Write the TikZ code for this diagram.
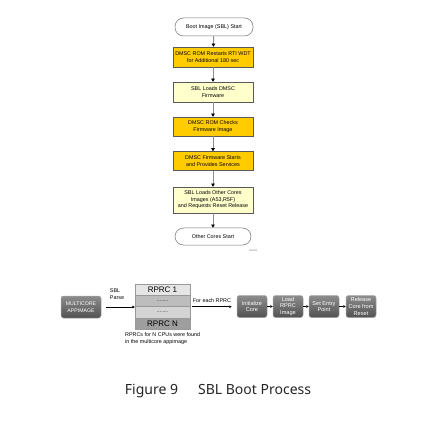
\documentclass[tikz,border=0pt]{standalone}
\usepackage{fontspec}
\setmainfont{Liberation Sans}
\newfontfamily\capfont{Noto Sans}
\usetikzlibrary{arrows.meta,calc}
\newcommand{\fsz}[2]{\fontsize{#1}{#2}\selectfont}
\tikzset{
  flowbox/.style={draw=black!65, line width=0.4pt, minimum width=80, align=center, inner sep=0.5pt, font=\fsz{5.4}{6.4}},
  ybox/.style={flowbox, fill=yellowbox},
  lbox/.style={flowbox, fill=lightbox},
  term/.style={draw=black!55, line width=0.5pt, fill=white, rounded corners=8.5, align=center, font=\fsz{5.4}{6.4}},
  flowarr/.style={draw=black!45, line width=1pt, -{Triangle[length=3.2pt,width=3.6pt,color=black]}},
  darkbox/.style={draw=black!35, line width=0.5pt, rounded corners=2.5, top color=black!45, bottom color=black!68, text=white, align=center, minimum width=30, minimum height=22, inner sep=0.5pt, font=\fsz{5.6}{6.6}},
  thinarr/.style={draw=black, line width=0.5pt, -{Triangle[length=2.4pt,width=2.4pt]}},
  rrow/.style={draw=black!40, line width=0.4pt, minimum width=55, minimum height=11.25, inner sep=0pt},
  small/.style={font=\fsz{5.4}{6.4}, inner sep=0pt, align=left},
}
\definecolor{yellowbox}{HTML}{FFCC00}
\definecolor{lightbox}{HTML}{FFFFCC}
\begin{document}
\begin{tikzpicture}[x=1pt,y=-1pt]
\useasboundingbox[fill=white] (0,0) rectangle (440,428);
% top flowchart
\node[term, minimum width=78, minimum height=18] (start) at (214,27) {Boot Image (SBL) Start};
\node[ybox, minimum height=20] (b1) at (213,57) {DMSC ROM Restarts RTI WDT\\for Additional 180 sec};
\node[lbox, minimum height=20] (b2) at (213,92) {SBL Loads DMSC\\Firmware};
\node[ybox, minimum height=19] (b3) at (213,126.5) {DMSC ROM Checks\\Firmware Image};
\node[ybox, minimum height=19] (b4) at (213,161) {DMSC Firmware Starts\\and Provides Services};
\node[lbox, minimum height=26] (b5) at (213,200) {SBL Loads Other Cores\\Images (A53,R5F)\\and Requests Reset Release};
\node[term, minimum width=76, minimum height=17] (end) at (213,236.5) {Other Cores Start};
\node[font=\fsz{2.6}{3}, text=black!55, inner sep=0pt] (ml) at (253,251) {ml-004};
\draw[flowarr] (start) -- (b1);
\draw[flowarr] (b1) -- (b2);
\draw[flowarr] (b2) -- (b3);
\draw[flowarr] (b3) -- (b4);
\draw[flowarr] (b4) -- (b5);
\draw[flowarr] (b5) -- (end);
% bottom
\node[darkbox, minimum width=40, minimum height=22, font=\fsz{5.2}{6.6}] (multi) at (81,307) {MULTICORE\\APPIMAGE};
\node[small] (parse) at (117,294) {SBL\\Parse};
\node[rrow, fill=black!10, font=\fsz{8}{9}] (r1) at (162.5,289.6) {RPRC 1};
\node[rrow, fill=black!26, font=\fsz{5}{6}] (r2) at (162.5,300.9) {........};
\node[rrow, fill=black!17, font=\fsz{5}{6}] (r3) at (162.5,312.1) {........};
\node[rrow, fill=black!38, font=\fsz{8}{9}] (r4) at (162.5,323.4) {RPRC N};
\draw[black!40, line width=0.5pt] (r1.north west) rectangle (r4.south east);
\node[small, anchor=north west] (found) at (125,332.5) {RPRCs for N CPUs were found\\in the multicore appimage};
\draw[thinarr, shorten <=5pt] (multi.east) -- (multi.east -| r2.west);
\node[darkbox] (c1) at (252,306.5) {Initialize\\Core};
\node[darkbox] (c2) at (288,306.5) {Load\\RPRC\\Image};
\node[darkbox] (c3) at (324,306.5) {Set Entry\\Point};
\node[darkbox] (c4) at (361,306.5) {Release\\Core from\\Reset};
\node[small] (each) at (212,301) {For each RPRC};
\draw[thinarr, shorten <=2pt, shorten >=5pt] (r2.south east) -- (r2.south east -| c1.west);
\draw[thinarr] (c1) -- (c2);
\draw[thinarr] (c2) -- (c3);
\draw[thinarr] (c3) -- (c4);
% caption
\node[font=\capfont\fsz{14}{16}, text=black!85, inner sep=0pt] (cap) at (218,391) {Figure 9\hspace{20pt}SBL Boot Process};
\end{tikzpicture}
\end{document}
